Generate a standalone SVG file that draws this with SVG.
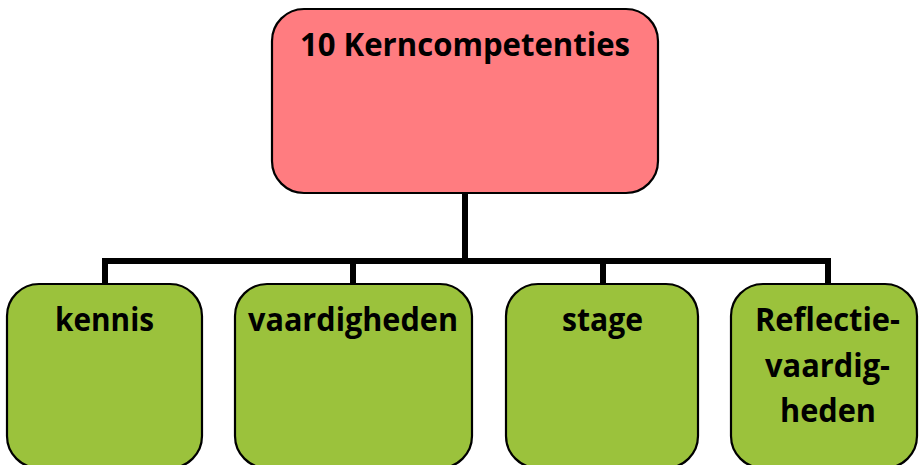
<svg xmlns="http://www.w3.org/2000/svg" width="919" height="465" viewBox="0 0 919 465">
<style>
.box{stroke:#000;stroke-width:2.2}
.top{fill:#FF7C80}
.leaf{fill:#9BC23C}
.lbl{font-family:"Open Sans","Liberation Sans",sans-serif;font-weight:bold;font-size:32px;fill:#000;text-anchor:middle}
.conn{fill:none;stroke:#000;stroke-width:6}
</style>
<rect width="919" height="465" fill="#fff"/>
<g id="connectors">
<path class="conn" d="M465 193V261M105 261H828M105 258V285M353 258V285M603 258V285M828 258V285"/>
</g>
<g id="node-root">
<rect class="box top" x="272" y="9" width="386" height="184" rx="32"/>
<text class="lbl" x="465" y="56" textLength="330" lengthAdjust="spacingAndGlyphs">10 Kerncompetenties</text>
</g>
<g id="node-kennis">
<rect class="box leaf" x="7" y="284" width="195" height="184" rx="32"/>
<text class="lbl" x="104.5" y="331" textLength="99" lengthAdjust="spacingAndGlyphs">kennis</text>
</g>
<g id="node-vaardigheden">
<rect class="box leaf" x="235" y="284" width="237" height="184" rx="32"/>
<text class="lbl" x="353" y="331" textLength="210" lengthAdjust="spacingAndGlyphs">vaardigheden</text>
</g>
<g id="node-stage">
<rect class="box leaf" x="506" y="284" width="192" height="184" rx="32"/>
<text class="lbl" x="602.5" y="331" textLength="81" lengthAdjust="spacingAndGlyphs">stage</text>
</g>
<g id="node-reflectie">
<rect class="box leaf" x="731" y="284" width="186" height="184" rx="32"/>
<text class="lbl" x="827.5" y="331" textLength="145" lengthAdjust="spacingAndGlyphs">Reflectie-</text>
<text class="lbl" x="827.5" y="377" textLength="125" lengthAdjust="spacingAndGlyphs">vaardig-</text>
<text class="lbl" x="828" y="422" textLength="96" lengthAdjust="spacingAndGlyphs">heden</text>
</g>
</svg>
